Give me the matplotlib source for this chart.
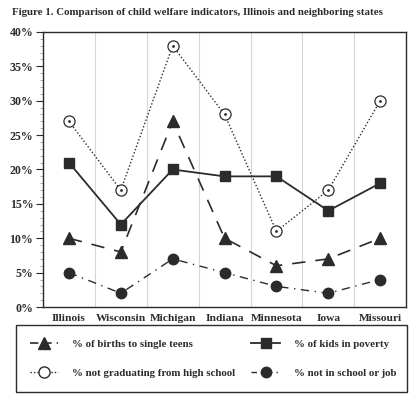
import matplotlib.pyplot as plt
from matplotlib.ticker import MultipleLocator, FuncFormatter
from matplotlib.lines import Line2D
from matplotlib.patches import Rectangle

states = ['Illinois', 'Wisconsin', 'Michigan', 'Indiana', 'Minnesota', 'Iowa', 'Missouri']
teen_births = [10, 8, 27, 10, 6, 7, 10]
kids_poverty = [21, 12, 20, 19, 19, 14, 18]
not_graduating = [27, 17, 38, 28, 11, 17, 30]
not_school_job = [5, 2, 7, 5, 3, 2, 4]

ink = '#2b2b2b'
plt.rcParams['font.family'] = ['Liberation Serif', 'DejaVu Serif']
plt.rcParams['font.weight'] = 'bold'

fig = plt.figure(figsize=(4.2, 3.94), dpi=100)
ax = fig.add_axes([0.1024, 0.2208, 0.8646, 0.698])
x = list(range(len(states)))

ax.plot(x, not_graduating, color=ink, ls=(0, (1, 1.5)), lw=1.0, marker='o', ms=8,
        mfc='white', mec=ink, mew=0.9, zorder=3)
ax.plot(x, not_graduating, ls='none', marker='.', ms=2, color=ink, zorder=4)
ax.plot(x, kids_poverty, color=ink, ls='-', lw=1.3, marker='s', ms=7.5, zorder=3)
ax.plot(x, teen_births, color=ink, ls=(0, (8, 6)), lw=1.2, marker='^', ms=8, zorder=3)
ax.plot(x, not_school_job, color=ink, ls=(0, (6, 4, 1, 4)), lw=1.0, marker='o', ms=7.5, zorder=3)

ax.set_xlim(-0.5, 6.5)
ax.set_ylim(0, 40)
ax.set_xticks(x)
ax.set_xticklabels(states, fontsize=8.2, fontweight='bold', color=ink)
ax.xaxis.set_minor_locator(MultipleLocator(1, offset=0.5))
ax.tick_params(axis='x', which='both', length=0, pad=5)
ax.grid(axis='x', which='minor', color='#d6d6d6', lw=0.8)

ax.yaxis.set_major_locator(MultipleLocator(5))
ax.yaxis.set_minor_locator(MultipleLocator(1))
ax.yaxis.set_major_formatter(FuncFormatter(lambda v, p: f'{int(v)}%'))
ax.tick_params(axis='y', which='major', length=5, width=0.8, color=ink, labelsize=8.6,
               labelcolor=ink, pad=2)
ax.tick_params(axis='y', which='minor', length=2.5, width=0.5, color='#888888')
for lab in ax.get_yticklabels():
    lab.set_fontweight('bold')
for s in ax.spines.values():
    s.set_color(ink)
    s.set_linewidth(1.0)

fig.text(0.029, 0.968, 'Figure 1. Comparison of child welfare indicators, Illinois and neighboring states',
         fontsize=7.85, fontweight='bold', color=ink, va='center', ha='left')

# legend box
fig.add_artist(Rectangle((0.038, 0.005), 0.931, 0.17, transform=fig.transFigure,
                         fill=False, edgecolor=ink, lw=1.0))

handles = [
    Line2D([], [], color=ink, ls=(0, (5, 3)), lw=1.2, marker='^', ms=8),
    Line2D([], [], color=ink, ls=(0, (1, 1.5)), lw=1.0, marker='o', ms=8, mfc='white', mec=ink),
    Line2D([], [], color=ink, ls='-', lw=1.3, marker='s', ms=7.5),
    Line2D([], [], color=ink, ls=(0, (4, 3, 1, 3)), lw=1.0, marker='o', ms=7.5),
]
labels = ['% of births to single teens', '% not graduating from high school',
          '% of kids in poverty', '% not in school or job']
leg = fig.legend(handles, labels, loc='center left', bbox_to_anchor=(0.071, 0.09),
                 ncol=2, frameon=False, fontsize=7.8, handlelength=2.6, handletextpad=1.3,
                 labelspacing=1.75, borderaxespad=0, borderpad=0, columnspacing=1.5)
for t in leg.get_texts():
    t.set_color(ink)
    t.set_fontweight('bold')

fig.savefig('out.png', dpi=100)
